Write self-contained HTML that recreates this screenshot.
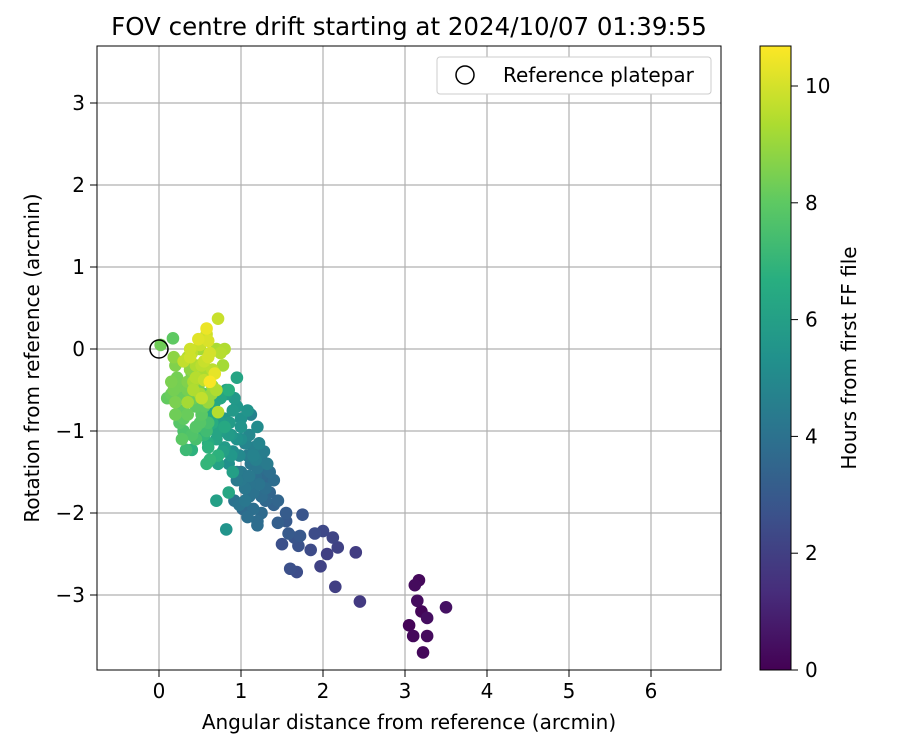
<!DOCTYPE html>
<html><head><meta charset="utf-8"><style>
body{margin:0;background:#fff;}
svg text{font-family:"DejaVu Sans","Liberation Sans",sans-serif;fill:#000;}
</style></head><body>
<svg id="c" width="900" height="750" xmlns="http://www.w3.org/2000/svg">
<defs><linearGradient id="vg" x1="0" y1="1" x2="0" y2="0">
<stop offset="0" stop-color="#440154"/><stop offset="0.125" stop-color="#472d7b"/><stop offset="0.25" stop-color="#3b528b"/><stop offset="0.375" stop-color="#2c728e"/><stop offset="0.5" stop-color="#21918c"/><stop offset="0.625" stop-color="#28ae80"/><stop offset="0.75" stop-color="#5ec962"/><stop offset="0.875" stop-color="#addc30"/><stop offset="1" stop-color="#fde725"/>
</linearGradient><clipPath id="pc"><rect x="97" y="46" width="624" height="624"/></clipPath></defs>
<g id="grid"></g>
<g id="pts" clip-path="url(#pc)"></g>
<rect x="97" y="46" width="624" height="624" fill="none" stroke="#000" stroke-width="1"/>
<g id="ticks"></g>
<text x="409" y="35" font-size="24.5" text-anchor="middle">FOV centre drift starting at 2024/10/07 01:39:55</text>
<text x="409" y="729" font-size="20" text-anchor="middle">Angular distance from reference (arcmin)</text>
<text transform="translate(39,358) rotate(-90)" font-size="20" text-anchor="middle">Rotation from reference (arcmin)</text>
<g>
<rect x="437" y="57" width="274" height="37" rx="3" fill="#fff" stroke="#ccc"/>
<circle cx="465" cy="75" r="9" fill="none" stroke="#000" stroke-width="1.5"/>
<text x="503" y="82" font-size="20">Reference platepar</text>
</g>
<rect x="760" y="46" width="31" height="624" fill="url(#vg)" stroke="#000"/>
<g id="cb"></g>
<text transform="translate(856,358) rotate(-90)" font-size="20" text-anchor="middle">Hours from first FF file</text>
</svg>
<script>
const xTicks=[0,1,2,3,4,5,6];
const yTicks=[-3,-2,-1,0,1,2,3];
const cbTicks=[0,2,4,6,8,10];
const xs=[3.05,3.1,3.12,3.17,3.15,3.2,3.22,3.27,3.27,3.5,
2.45,2.15,2.4,2.18,2.12,2.05,2.0,1.97,1.85,1.9,1.75,1.68,1.6,1.7,1.72,1.65,1.55,1.5,1.55,1.45,1.58,
1.3,1.25,1.2,1.15,1.1,1.35,1.4,1.22,1.05,1.0,0.95,1.28,1.18,1.12,1.08,1.3,0.92,1.02,1.2,1.25,
1.15,1.05,0.98,0.9,0.85,1.1,1.2,1.0,0.88,0.95,1.08,0.8,0.75,1.12,0.82,0.92,1.0,0.86,1.25,
0.7,0.8,0.65,0.6,0.75,0.55,0.9,0.95,0.68,0.85,0.5,0.62,0.72,0.82,0.58,0.45,0.7,0.85,0.4,0.65,
0.3,0.35,0.25,0.4,0.5,0.55,0.45,0.3,0.2,0.6,0.35,0.42,0.28,0.15,0.52,0.38,0.48,0.22,0.33,0.58,0.18,0.1,0.25,0.62,0.02,0.17,
0.45,0.55,0.5,0.6,0.65,0.7,0.42,0.38,0.48,0.58,0.52,0.75,0.62,0.68,0.72,0.55,0.35,0.58,0.72,0.64,
1.0,1.1,1.15,1.05,0.95,1.2,1.3,1.25,1.35,1.1,1.18,1.28,1.4,1.45,1.08,0.98,1.15,1.22,1.32,
0.8,0.9,0.75,0.85,0.95,0.7,0.65,0.78,0.88,1.0,0.72,0.6,0.68,0.82,
0.2,0.3,0.4,0.15,0.25,0.35,0.45,0.55,0.2,0.3,0.5,0.4,0.28,0.38,0.18,0.48,
0.4,0.5,0.6,0.45,0.55,0.65,0.35,0.5,0.6,0.7,0.42,0.52,0.62,0.78,0.8,0.3,0.38];
const ys=[-3.37,-3.5,-2.88,-2.82,-3.07,-3.2,-3.7,-3.5,-3.28,-3.15,
-3.08,-2.9,-2.48,-2.42,-2.3,-2.5,-2.22,-2.65,-2.45,-2.25,-2.02,-2.72,-2.68,-2.4,-2.28,-2.3,-2.1,-2.38,-2.0,-2.12,-2.25,
-1.85,-2.0,-2.1,-1.95,-1.8,-1.75,-1.9,-1.65,-1.7,-1.6,-1.5,-1.45,-1.55,-1.4,-1.3,-1.6,-1.85,-1.95,-2.15,-1.55,
-1.2,-1.15,-1.3,-1.25,-1.4,-1.05,-0.95,-0.85,-1.05,-0.7,-0.75,-1.2,-1.0,-0.8,-0.5,-0.6,-1.1,-0.9,-1.35,
-1.1,-0.95,-0.9,-1.2,-0.6,-1.05,-1.5,-0.35,-0.75,-0.5,-0.95,-1.35,-1.3,-2.2,-1.0,-1.1,-1.85,-1.75,-1.23,-0.45,
-0.55,-0.8,-0.45,-0.3,-0.2,-0.7,-0.95,-1.0,-0.65,-0.9,-0.4,-0.6,-0.75,-0.55,-0.8,-0.25,-0.5,-0.35,-1.23,-1.4,-0.1,-0.6,-0.9,-0.3,0.05,0.13,
-0.35,-0.15,0.0,-0.1,-0.25,0.0,-0.5,-0.1,0.12,0.25,-0.6,-0.05,-0.4,-0.3,0.37,-0.38,-0.65,0.18,-0.77,-0.55,
-1.5,-1.65,-1.75,-1.85,-1.6,-1.45,-1.7,-1.8,-1.5,-1.55,-1.35,-1.25,-1.6,-1.85,-2.05,-1.9,-1.3,-1.15,-1.4,
-0.85,-0.75,-0.9,-1.05,-1.1,-1.0,-0.8,-1.25,-1.3,-0.95,-1.4,-1.15,-0.65,-0.55,
-0.2,-0.15,-0.35,-0.4,-0.6,-0.5,-0.7,-0.55,-0.8,-0.85,-0.9,-1.05,-1.1,-0.25,-0.5,-0.45,
-0.05,0.05,0.1,-0.2,-0.3,-0.45,-0.1,-0.55,-0.65,-0.5,-0.4,-0.2,-0.05,-0.2,0.0,-0.15,0.0];
const hs=[0.1,0.2,0.3,0.25,0.35,0.15,0.2,0.3,0.4,0.5,
1.8,2.0,1.9,2.1,2.2,2.0,2.3,2.1,2.4,2.5,2.8,2.5,2.6,2.7,2.9,2.8,3.0,2.6,3.1,3.2,3.0,
3.6,3.7,3.8,3.9,4.0,3.5,3.4,4.1,4.2,4.3,4.4,3.8,3.9,4.2,4.5,3.6,4.0,3.7,3.8,3.7,
4.6,4.8,5.0,5.2,5.3,4.9,5.1,5.4,5.6,5.6,5.5,5.8,5.9,4.7,6.0,5.7,5.2,5.8,4.4,
6.2,6.4,6.6,6.8,6.3,7.0,6.0,6.2,6.5,6.7,7.2,7.0,6.8,5.5,7.3,7.5,6.0,6.3,6.8,7.4,
8.0,8.2,8.4,8.1,8.3,8.0,7.8,7.6,8.5,7.5,8.6,8.3,8.1,8.2,7.9,8.7,8.5,8.4,7.2,7.0,8.8,8.1,7.8,8.9,8.3,8.0,
9.5,9.8,9.2,10.0,9.6,9.3,9.4,9.9,10.2,10.4,9.7,9.5,10.6,10.3,9.8,9.7,9.2,9.9,9.5,9.0,
4.3,4.1,4.0,4.2,4.4,4.2,3.9,3.8,3.9,4.3,4.6,4.5,3.8,3.5,3.9,4.1,4.7,4.8,4.4,
5.6,5.7,5.9,5.8,5.4,6.2,6.5,6.0,5.6,5.5,6.1,6.6,6.3,5.9,
8.6,8.7,8.3,8.5,8.2,8.4,8.0,8.1,8.3,8.0,7.8,7.7,7.9,8.8,8.4,8.2,
9.6,9.8,10.1,9.4,9.3,9.1,9.5,9.2,9.0,9.4,9.3,9.6,10.0,9.2,9.4,9.7,9.9];
const X=v=>159+82*v, Y=v=>349-82*v;
const NS='http://www.w3.org/2000/svg';
const stops=['#440154','#472d7b','#3b528b','#2c728e','#21918c','#28ae80','#5ec962','#addc30','#fde725'];
function col(h){let t=Math.max(0,Math.min(1,h/10.68))*8,i=Math.min(7,Math.floor(t)),f=t-i;
const a=stops[i],b=stops[i+1],p=(s,k)=>parseInt(s.substr(1+2*k,2),16);
return 'rgb('+[0,1,2].map(k=>Math.round(p(a,k)+(p(b,k)-p(a,k))*f)).join(',')+')';}
function el(tag,at,parent,txt){const e=document.createElementNS(NS,tag);for(const k in at)e.setAttribute(k,at[k]);if(txt!==undefined)e.textContent=txt;parent.appendChild(e);return e;}
const grid=document.getElementById('grid'),tk=document.getElementById('ticks'),pts=document.getElementById('pts'),cb=document.getElementById('cb');
xTicks.forEach(v=>{const l=el('line',{x1:X(v),x2:X(v),y1:46,y2:670,stroke:'#b0b0b0','stroke-width':1.2},grid);

el('line',{x1:X(v),x2:X(v),y1:670,y2:677,stroke:'#000'},tk);
const t=el('text',{x:X(v),y:698,'font-size':20,'text-anchor':'middle'},tk,String(v));
});
yTicks.forEach(v=>{const l=el('line',{x1:97,x2:721,y1:Y(v),y2:Y(v),stroke:'#b0b0b0','stroke-width':1.2},grid);

el('line',{x1:90,x2:97,y1:Y(v),y2:Y(v),stroke:'#000'},tk);
const t=el('text',{x:85,y:Y(v)+7,'font-size':20,'text-anchor':'end'},tk,(v<0?'\u2212':'')+Math.abs(v));
});
const idx=hs.map((h,i)=>i).sort((a,b)=>hs[a]-hs[b]);
idx.forEach(i=>{const c=el('circle',{cx:X(xs[i]),cy:Y(ys[i]),r:6.3,fill:col(hs[i])},pts);
});
const rc=el('circle',{cx:X(0),cy:Y(0),r:9,fill:'none',stroke:'#000','stroke-width':1.5},pts);

cbTicks.forEach(v=>{const y=670-58.4*v;el('line',{x1:791,x2:798,y1:y,y2:y,stroke:'#000'},cb);
const t=el('text',{x:805,y:y+7,'font-size':20},cb,String(v));
});
</script>
</body></html>
